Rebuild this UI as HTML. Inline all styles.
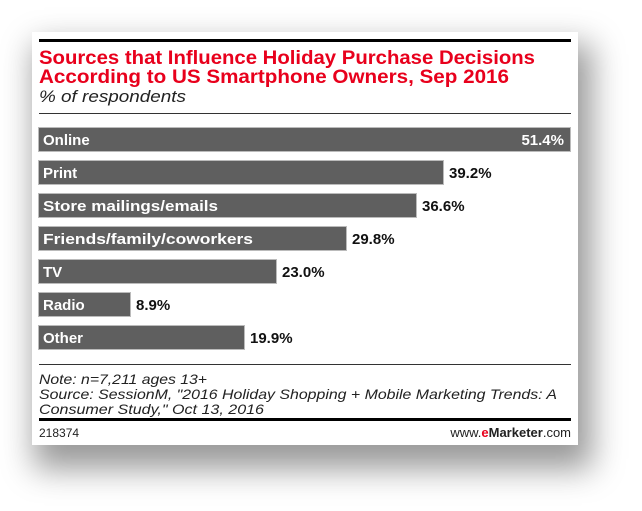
<!DOCTYPE html>
<html><head><meta charset="utf-8"><style>
html,body{margin:0;padding:0;background:#fff;width:642px;height:511px;overflow:hidden}
.card{position:absolute;left:32px;top:32px;width:546px;height:413px;background:#fff;box-shadow:8px 18px 30px 6px rgba(0,0,0,0.4)}
svg{position:absolute;left:0;top:0}
</style></head><body>
<div class="card"></div>
<svg width="642" height="511" xmlns="http://www.w3.org/2000/svg" font-family="Liberation Sans, sans-serif">
<rect x="39" y="39" width="532" height="3" fill="#000"/>
<text x="39" y="64" font-size="19" font-weight="bold" fill="#e8001c" textLength="496" lengthAdjust="spacingAndGlyphs">Sources that Influence Holiday Purchase Decisions</text>
<text x="39" y="83" font-size="19" font-weight="bold" fill="#e8001c" textLength="470" lengthAdjust="spacingAndGlyphs">According to US Smartphone Owners, Sep 2016</text>
<text x="39" y="102" font-size="17" font-style="italic" fill="#222" textLength="147" lengthAdjust="spacingAndGlyphs">% of respondents</text>
<rect x="39" y="113" width="532" height="1" fill="#333"/>
<g fill="#5f5f5f" stroke="#bbb" stroke-width="1">
<rect x="38.5" y="127.5" width="532" height="24"/>
<rect x="38.5" y="160.5" width="405" height="24"/>
<rect x="38.5" y="193.5" width="378" height="24"/>
<rect x="38.5" y="226.5" width="308" height="24"/>
<rect x="38.5" y="259.5" width="238" height="24"/>
<rect x="38.5" y="292.5" width="92" height="24"/>
<rect x="38.5" y="325.5" width="206" height="24"/>
</g>
<g font-size="15" font-weight="bold" fill="#fff">
<text x="43" y="145">Online</text>
<text x="43" y="178">Print</text>
<text x="43" y="211" textLength="175" lengthAdjust="spacingAndGlyphs">Store mailings/emails</text>
<text x="43" y="244" textLength="210" lengthAdjust="spacingAndGlyphs">Friends/family/coworkers</text>
<text x="43" y="277">TV</text>
<text x="43" y="310">Radio</text>
<text x="43" y="343">Other</text>
<text x="564" y="145" text-anchor="end">51.4%</text>
</g>
<g font-size="15" font-weight="bold" fill="#111">
<text x="449" y="178">39.2%</text>
<text x="422" y="211">36.6%</text>
<text x="352" y="244">29.8%</text>
<text x="282" y="277">23.0%</text>
<text x="136" y="310">8.9%</text>
<text x="250" y="343">19.9%</text>
</g>
<rect x="39" y="364" width="532" height="1" fill="#333"/>
<g font-size="14" font-style="italic" fill="#222">
<text x="39" y="384" textLength="168" lengthAdjust="spacingAndGlyphs">Note: n=7,211 ages 13+</text>
<text x="39" y="399" textLength="518" lengthAdjust="spacingAndGlyphs">Source: SessionM, "2016 Holiday Shopping + Mobile Marketing Trends: A</text>
<text x="39" y="414" textLength="225" lengthAdjust="spacingAndGlyphs">Consumer Study," Oct 13, 2016</text>
</g>
<rect x="39" y="418" width="532" height="3" fill="#000"/>
<text x="39" y="437" font-size="12" fill="#222">218374</text>
<text x="571" y="437" font-size="13" fill="#222" text-anchor="end">www.<tspan fill="#e8001c" font-weight="bold">e</tspan><tspan font-weight="bold">Marketer</tspan>.com</text>
</svg>
</body></html>
